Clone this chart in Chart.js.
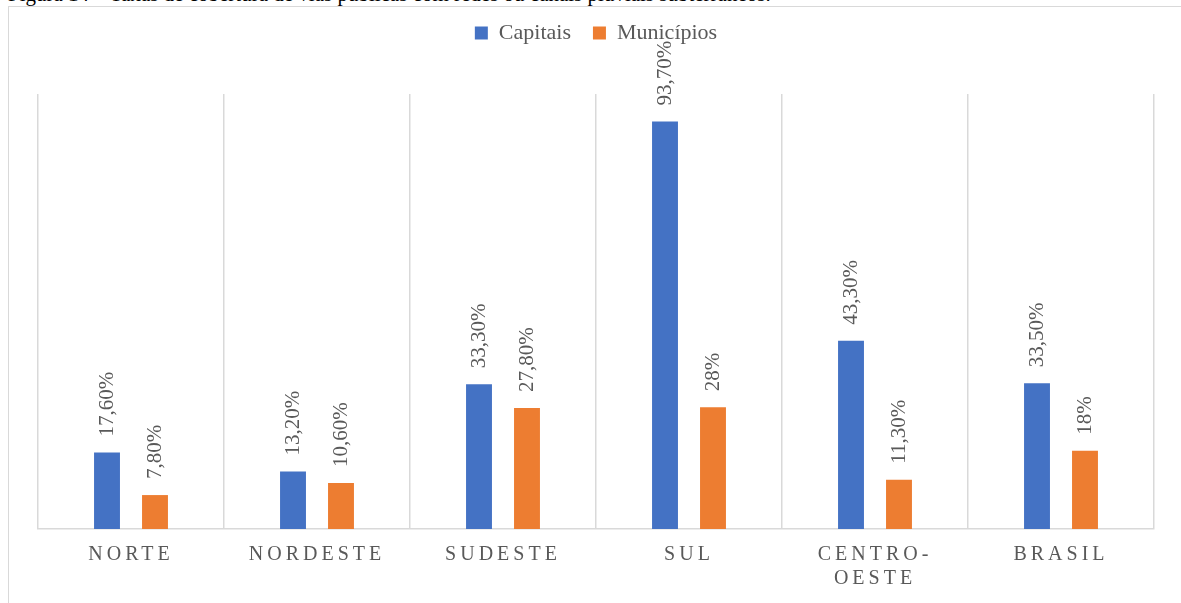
<!DOCTYPE html>
<html>
<head>
<meta charset="utf-8">
<script src="https://cdn.jsdelivr.net/npm/chart.js@4/dist/chart.umd.min.js"></script>
<style>
    body { margin: 0; background: #fff; overflow: hidden; }
    #caption {
        position: absolute; left: 8px; top: -16px;
        font: 21px/21px "Liberation Serif", serif; color: #000; white-space: nowrap;
    }
    #frame {
        position: absolute; left: 8px; top: 6px; width: 1300px; height: 700px;
        border: 1px solid #d9d9d9;
    }
    #myChart { position: absolute; left: 0; top: 0; }
</style>
</head>
<body>
<div id="caption">Figura 14 – Taxas de cobertura de vias públicas com redes ou canais pluviais subterrâneos.</div>
<div id="frame"></div>
<canvas id="myChart" width="1181" height="603"></canvas>
<script>
// dados do gráfico
const categories = ['NORTE', 'NORDESTE', 'SUDESTE', 'SUL', ['CENTRO-', 'OESTE'], 'BRASIL'];
const capitais = [17.6, 13.2, 33.3, 93.7, 43.3, 33.5];
const municipios = [7.8, 10.6, 27.8, 28, 11.3, 18];
const capitaisLabels = ['17,60%', '13,20%', '33,30%', '93,70%', '43,30%', '33,50%'];
const municipiosLabels = ['7,80%', '10,60%', '27,80%', '28%', '11,30%', '18%'];

const serif = '"Liberation Serif", serif';

Chart.defaults.font.family = serif;
Chart.defaults.color = '#595959';

// rótulos de dados girados acima das barras
const barLabels = {
    id: 'barLabels',
    afterDatasetsDraw(chart) {
        let ctx = chart.ctx;
        let texts = [capitaisLabels, municipiosLabels];
        chart.data.datasets.forEach(function(ds, i) {
            chart.getDatasetMeta(i).data.forEach(function(bar, j) {
                ctx.save();
                ctx.font = 'normal 21px ' + serif;
                ctx.translate(bar.x, bar.y - 16);
                ctx.rotate(-Math.PI / 2);
                ctx.fillStyle = '#595959';
                ctx.textAlign = 'left';
                ctx.textBaseline = 'middle';
                ctx.fillText(texts[i][j], 0, 0);
                ctx.restore();
            });
        });
    }
};

// espaçamento entre letras nos rótulos do eixo X
const spacedTicks = {
    id: 'spacedTicks',
    beforeDraw(chart) {
        let sc = chart.scales.x;
        if (sc._spaced) return;
        let orig = sc.drawLabels;
        sc.drawLabels = function(area) {
            chart.ctx.save();
            chart.ctx.letterSpacing = '4px';
            orig.call(this, area);
            chart.ctx.restore();
        };
        sc._spaced = true;
    }
};

function drawChart() {
    let ctx = document.getElementById('myChart').getContext('2d');
    new Chart(ctx, {
        type: 'bar',
        data: {
            labels: categories,
            datasets: [{
                label: 'Capitais',
                data: capitais,
                backgroundColor: '#4472C4'
            }, {
                label: 'Municípios',
                data: municipios,
                backgroundColor: '#ED7D31'
            }]
        },
        options: {
            responsive: false,
            animation: false,
            categoryPercentage: 0.516,
            barPercentage: 0.54,
            layout: { padding: { left: 38, right: 27, top: 0, bottom: 12 } },
            plugins: {
                legend: {
                    position: 'top',
                    labels: {
                        boxWidth: 13,
                        boxHeight: 13,
                        padding: 22,
                        color: '#595959',
                        font: { family: serif, size: 22 }
                    }
                },
                tooltip: { enabled: false }
            },
            scales: {
                x: {
                    grid: { color: '#d9d9d9', lineWidth: 1.5, drawTicks: false },
                    border: { color: '#d9d9d9', width: 1.5 },
                    ticks: {
                        color: '#595959',
                        padding: 14,
                        maxRotation: 0,
                        font: { family: serif, size: 20 }
                    },
                    afterFit: function(scale) { scale.height = 62; }
                },
                gap: {
                    type: 'category',
                    position: 'top',
                    grid: { display: false },
                    border: { display: false },
                    ticks: { display: false },
                    afterFit: function(scale) { scale.height = 40; }
                },
                y: {
                    display: false,
                    min: 0,
                    max: 100
                }
            }
        },
        plugins: [barLabels, spacedTicks]
    });
}

document.fonts.load('22px "Liberation Serif"').then(drawChart, drawChart);
</script>
</body>
</html>
